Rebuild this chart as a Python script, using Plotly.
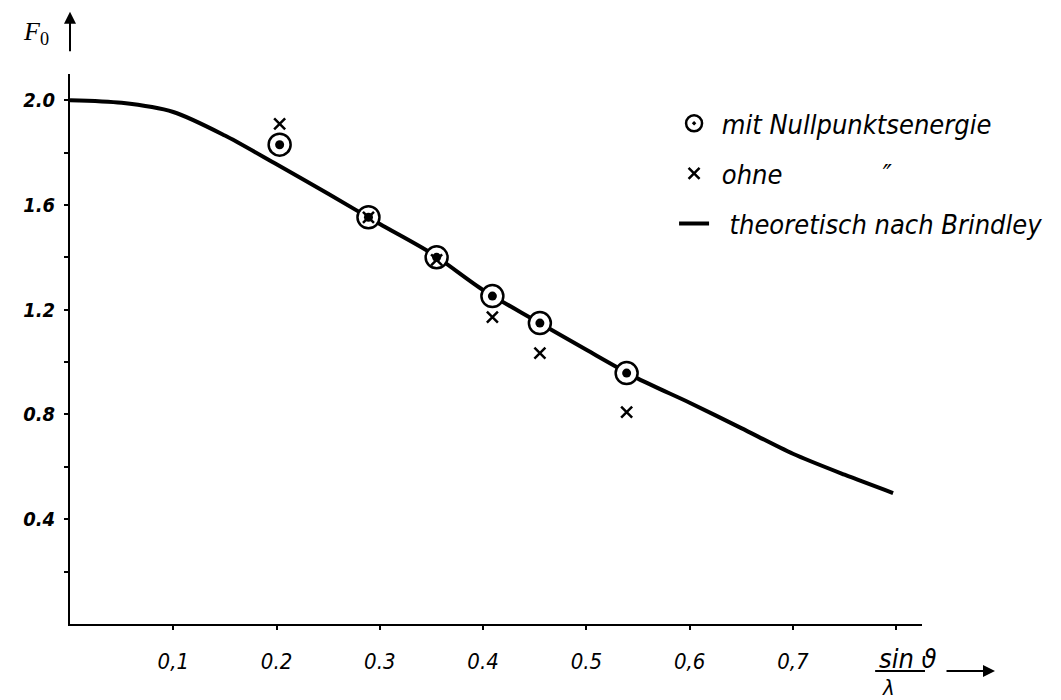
import plotly.graph_objects as go

# theoretical curve (Brindley)
curve_x = [0.0, 0.05, 0.1, 0.15, 0.2, 0.25, 0.3, 0.35, 0.4, 0.45, 0.5, 0.55, 0.6, 0.65, 0.7, 0.75, 0.797]
curve_y = [2.0, 1.99, 1.955, 1.865, 1.755, 1.643, 1.527, 1.415, 1.275, 1.16, 1.047, 0.937, 0.845, 0.748, 0.65, 0.57, 0.50]

# measured points
pts_x = [0.203, 0.289, 0.355, 0.409, 0.455, 0.539]
mit_y = [1.83, 1.553, 1.40, 1.252, 1.149, 0.958]
ohne_y = [1.91, 1.553, 1.39, 1.172, 1.034, 0.809]

x_tickvals = [0.1, 0.2, 0.3, 0.4, 0.5, 0.6, 0.7, 0.8]
x_ticktext = ["0,1", "0.2", "0.3", "0.4", "0.5", "0,6", "0,7", " "]
y_tickvals = [0.2, 0.4, 0.6, 0.8, 1.0, 1.2, 1.4, 1.6, 1.8, 2.0]
y_ticktext = [" ", "0.4", " ", "0.8", " ", "1.2", " ", "1.6", " ", "2.0"]

NB = "\u00a0"
legend_names = [NB + "mit Nullpunktsenergie", NB + "ohne" + NB * 13 + "\u2033",
                NB * 2 + "theoretisch nach Brindley"]

HAND = "Liberation Sans Narrow, DejaVu Sans Condensed, Liberation Sans, sans-serif"

fig = go.Figure()
fig.add_trace(go.Scatter(
    x=curve_x, y=curve_y, mode="lines", name=legend_names[2],
    line=dict(color="black", width=4, shape="spline", smoothing=0.8),
    legendgroup="c", legendrank=3))
fig.add_trace(go.Scatter(
    x=pts_x, y=mit_y, mode="markers", name=legend_names[0],
    marker=dict(symbol="circle-dot", size=22, color="white",
                line=dict(color="black", width=2.5)),
    legendgroup="a", legendrank=1))
fig.add_trace(go.Scatter(
    x=pts_x, y=mit_y, mode="markers", showlegend=False,
    marker=dict(symbol="circle", size=9, color="black"),
    legendgroup="a", hoverinfo="skip"))
fig.add_trace(go.Scatter(
    x=pts_x, y=ohne_y, mode="markers", name=legend_names[1],
    marker=dict(symbol="x-thin", size=11, color="black",
                line=dict(color="black", width=2.5)),
    legendgroup="b", legendrank=2))

axis_common = dict(showgrid=False, zeroline=False, showline=True,
                   linecolor="black", linewidth=2, ticks="outside",
                   ticklen=4, tickwidth=2, tickcolor="black", automargin=False)

fig.update_xaxes(range=[0, 0.825], tickvals=x_tickvals, ticktext=x_ticktext,
                 tickfont=dict(family=HAND, size=22, style="italic", color="black"),
                 ticklabelstandoff=13, **axis_common)
fig.update_yaxes(range=[0, 2.1], tickvals=y_tickvals, ticktext=y_ticktext,
                 tickfont=dict(family=HAND, size=20, style="italic", weight="bold", color="black"),
                 ticklabelstandoff=5, **axis_common)

# page body has an 8px margin: figure is sized/offset to compensate
fig.update_layout(
    width=1053, height=692,
    margin=dict(l=62, r=139, t=66, b=76, autoexpand=False),
    paper_bgcolor="white", plot_bgcolor="white",
    showlegend=True,
    legend=dict(x=0.709, y=0.954, xanchor="left", yanchor="top",
                font=dict(family=HAND, size=27, style="italic", color="black"),
                tracegroupgap=12, itemsizing="trace", bgcolor="rgba(0,0,0,0)",
                traceorder="grouped"),
    annotations=[
        dict(xref="paper", yref="paper", x=0, y=1.113, ax=0, ay=41,
             showarrow=True, arrowhead=2, arrowsize=1.2, arrowwidth=2,
             arrowcolor="black", text=""),
        dict(xref="paper", yref="paper", x=1.0857, y=-0.0855, ax=-50, ay=0,
             showarrow=True, arrowhead=2, arrowsize=1.2, arrowwidth=2,
             arrowcolor="black", text=""),
        dict(xref="paper", yref="paper", x=-0.058, y=1.108, showarrow=False,
             text="<i>F</i><sub>0</sub>",
             font=dict(family="Liberation Serif, serif", size=26, color="black")),
        dict(xref="paper", yref="paper", x=1.02, y=-0.095, showarrow=False,
             text="sin \u03d1",
             font=dict(family=HAND, size=27, style="italic", color="black")),
        dict(xref="paper", yref="paper", x=0.971, y=-0.142, showarrow=False,
             text="\u03bb",
             font=dict(family=HAND, size=22, style="italic", color="black")),
    ],
    shapes=[
        dict(type="line", xref="paper", yref="paper", x0=0.945, x1=1.0035,
             y0=-0.0855, y1=-0.0855, line=dict(color="black", width=2)),
    ],
)

fig.write_html("out.html")
